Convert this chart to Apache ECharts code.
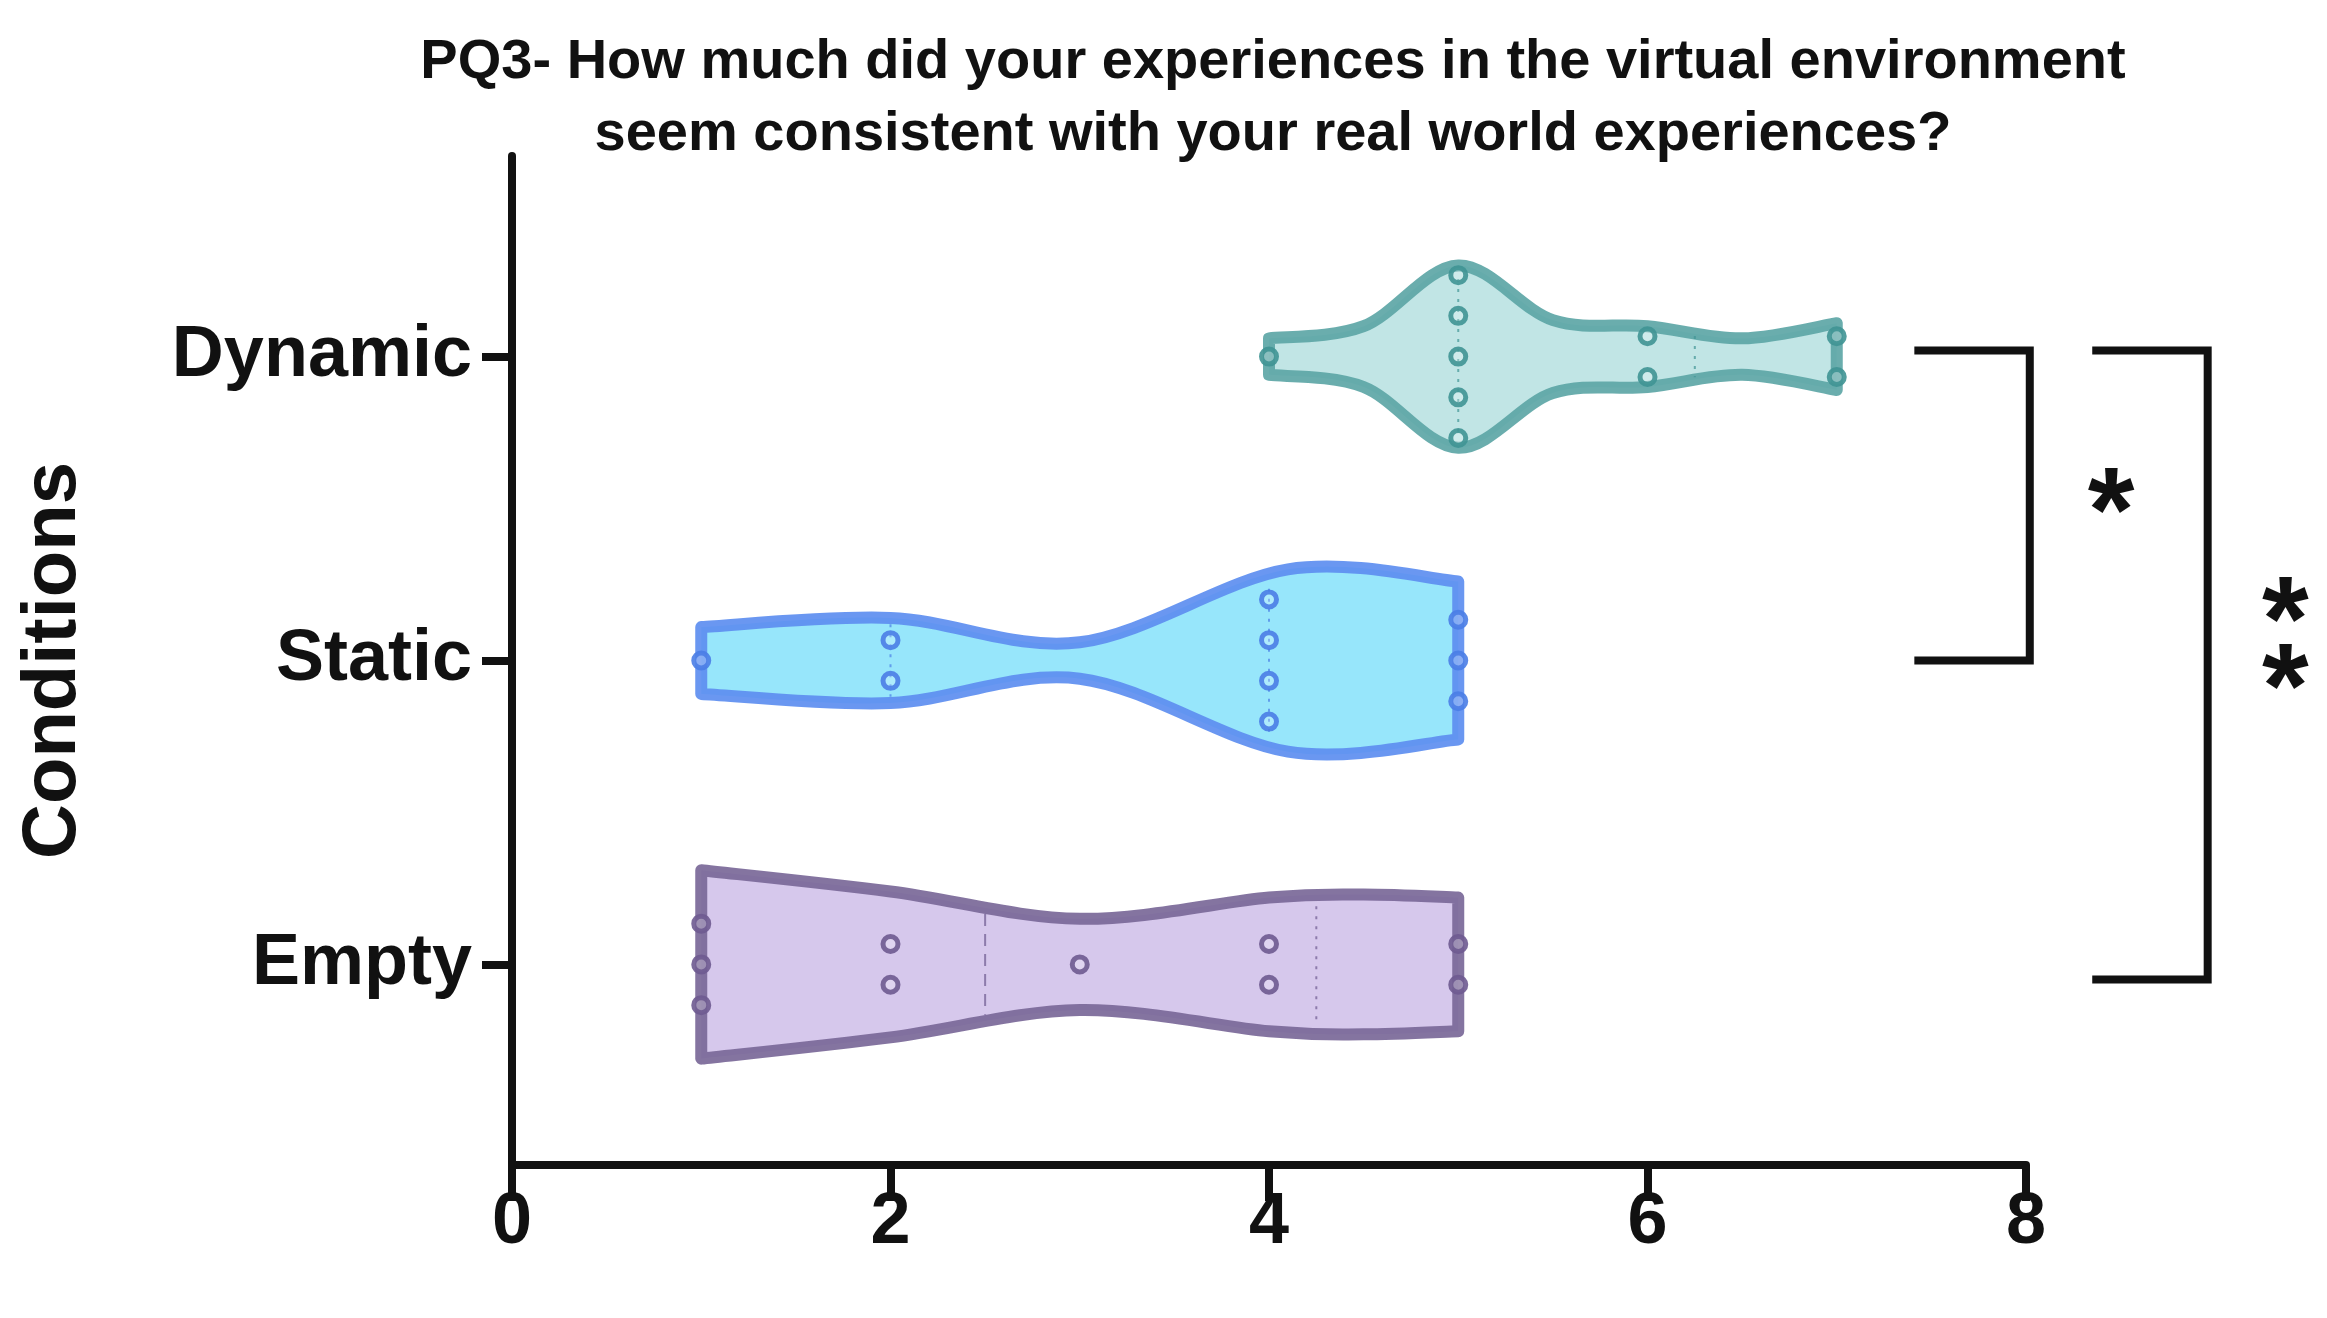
<!DOCTYPE html>
<html>
<head>
<meta charset="utf-8">
<script src="https://cdn.jsdelivr.net/npm/echarts@6/dist/echarts.min.js"></script>
<style>
html,body{margin:0;padding:0;background:#fff;}
#main{width:2327px;height:1318px;}
</style>
</head>
<body>
<div id="main"></div>
<script>
// categories, bottom to top
var categories = ["Empty", "Static", "Dynamic"];
var xTicks = [0, 2, 4, 6, 8];

// violin profiles: [score, half width]
var dynamicShape = [[4, 0.06], [4.5, 0.1], [5, 0.30], [5.5, 0.12], [6, 0.1], [6.5, 0.06], [7, 0.11]];
var staticShape = [[1, 0.11], [2, 0.14], [3, 0.06], [4.1, 0.30], [5, 0.26]];
var emptyShape = [[1, 0.31], [2, 0.24], [3, 0.15], [4, 0.22], [4.5, 0.23], [5, 0.22]];

// individual answers: [score, stack slot]
var dynamicPoints = [[4, 0], [5, -2], [5, -1], [5, 0], [5, 1], [5, 2], [6, -0.5], [6, 0.5], [7, -0.5], [7, 0.5]];
var staticPoints = [[1, 0], [2, -0.5], [2, 0.5], [4, -1.5], [4, -0.5], [4, 0.5], [4, 1.5], [5, -1], [5, 0], [5, 1]];
var emptyPoints = [[1, -1], [1, 0], [1, 1], [2, -0.5], [2, 0.5], [3, 0], [4, -0.5], [4, 0.5], [5, -0.5], [5, 0.5]];

// median / quartile lines: [score, type]
var dynamicLines = [[5, "dotted"], [6.25, "dotted"]];
var staticLines = [[2, "dotted"], [4, "dotted"]];
var emptyLines = [[2.5, "dashed"], [4.25, "dotted"]];

var groups = [
    {shape: emptyShape, points: emptyPoints, lines: emptyLines, fill: "#d2c3ea", stroke: "#7a6898", dot: "#6e5a90"},
    {shape: staticShape, points: staticPoints, lines: staticLines, fill: "#8ee4fb", stroke: "#5d8ef0", dot: "#4a7de6"},
    {shape: dynamicShape, points: dynamicPoints, lines: dynamicLines, fill: "#bce3e3", stroke: "#5da6a6", dot: "#3f9494"}
];
var dotStep = 0.134;

function halfAt(shape, x){
    for (var i = 0; i < shape.length - 1; i++) {
        if (x >= shape[i][0] && x <= shape[i + 1][0]) {
            var t = (x - shape[i][0]) / (shape[i + 1][0] - shape[i][0]);
            return shape[i][1] + t * (shape[i + 1][1] - shape[i][1]);
        }
    }
    return shape[shape.length - 1][1];
}

// smooth curve through pixel points (catmull-rom), as path commands
function curve(pts, start){
    var d = start ? "M" + pts[0][0] + "," + pts[0][1] : "L" + pts[0][0] + "," + pts[0][1];
    for (var i = 0; i < pts.length - 1; i++) {
        var p0 = pts[Math.max(i - 1, 0)], p1 = pts[i], p2 = pts[i + 1], p3 = pts[Math.min(i + 2, pts.length - 1)];
        var c1 = [p1[0] + (p2[0] - p0[0]) / 6, p1[1] + (p2[1] - p0[1]) / 6];
        var c2 = [p2[0] - (p3[0] - p1[0]) / 6, p2[1] - (p3[1] - p1[1]) / 6];
        d += "C" + c1[0] + "," + c1[1] + " " + c2[0] + "," + c2[1] + " " + p2[0] + "," + p2[1];
    }
    return d;
}

var series = [];

groups.forEach(function(g, gi){
    series.push({
        type: "custom",
        data: [[gi]],
        clip: false,
        z: 2,
        renderItem: function(params, api){
            var top = [], bot = [];
            g.shape.forEach(function(p){
                top.push(api.coord([p[0], gi + p[1]]));
                bot.unshift(api.coord([p[0], gi - p[1]]));
            });
            var children = [{
                type: "path",
                shape: {pathData: curve(top, true) + curve(bot, false) + "Z"},
                style: {fill: g.fill, stroke: g.stroke, lineWidth: 12, lineJoin: "round", opacity: 0.92}
            }];
            g.lines.forEach(function(l){
                var h = halfAt(g.shape, l[0]) * 0.85;
                var a = api.coord([l[0], gi + h]), b = api.coord([l[0], gi - h]);
                children.push({
                    type: "line",
                    shape: {x1: a[0], y1: a[1], x2: b[0], y2: b[1]},
                    style: {stroke: g.dot, lineWidth: 2, lineDash: l[1] == "dashed" ? [12, 8] : [3, 7], opacity: 0.7}
                });
            });
            return {type: "group", children: children};
        }
    });
    series.push({
        type: "scatter",
        z: 3,
        symbol: "circle",
        symbolSize: 15,
        itemStyle: {color: "rgba(255,255,255,0.25)", borderColor: g.dot, borderWidth: 5, opacity: 0.9},
        data: g.points.map(function(p){ return [p[0], gi + p[1] * dotStep]; })
    });
});

// significance brackets: [x left, x right, y top, y bottom]
var brackets = [[7.41, 8.02, 2.02, 1.0], [8.35, 8.96, 2.02, -0.05]];
var stars = [[8.45, 1.47], [9.37, 1.11], [9.37, 0.89]];

series.push({
    type: "custom",
    data: [[0]],
    clip: false,
    renderItem: function(params, api){
        var children = [];
        brackets.forEach(function(b){
            var p1 = api.coord([b[0], b[2]]), p2 = api.coord([b[1], b[2]]);
            var p3 = api.coord([b[1], b[3]]), p4 = api.coord([b[0], b[3]]);
            children.push({
                type: "polyline",
                shape: {points: [p1, p2, p3, p4]},
                style: {stroke: "#111", lineWidth: 8, fill: null}
            });
        });
        stars.forEach(function(s){
            var c = api.coord([s[0], s[1]]);
            children.push({
                type: "text",
                x: c[0], y: c[1],
                style: {text: "*", font: "bold 120px Liberation Sans", fill: "#111", align: "center", verticalAlign: "middle"}
            });
        });
        return {type: "group", children: children};
    }
});

var myChart = echarts.init(document.getElementById("main"));

var option = {
    backgroundColor: "#fff",
    animation: false,
    title: {
        text: "PQ3- How much did your experiences in the virtual environment\nseem consistent with your real world experiences?",
        left: 1268,
        top: 22,
        textAlign: "center",
        textStyle: {fontFamily: "Liberation Sans", fontWeight: "bold", fontSize: 56, lineHeight: 72, color: "#111"}
    },
    grid: {left: 512, right: 301, top: 156, bottom: 153},
    xAxis: {
        type: "value",
        min: 0, max: 8, interval: 2,
        axisLine: {show: true, onZero: false, lineStyle: {color: "#111", width: 8}},
        axisTick: {show: true, length: 36, lineStyle: {color: "#111", width: 8}},
        splitLine: {show: false},
        axisLabel: {fontFamily: "Liberation Sans", fontWeight: "bold", fontSize: 72, color: "#111", margin: 22,
            formatter: function(v){ return xTicks.indexOf(v) >= 0 ? String(v) : ""; }}
    },
    yAxis: {
        type: "value",
        min: -0.66, max: 2.66,
        name: "Conditions",
        nameLocation: "middle",
        nameGap: 420,
        nameTextStyle: {fontFamily: "Liberation Sans", fontWeight: "bold", fontSize: 76, color: "#111"},
        axisLine: {show: true, onZero: false, lineStyle: {color: "#111", width: 8}},
        axisTick: {show: true, length: 30, customValues: [0, 1, 2], lineStyle: {color: "#111", width: 8}},
        splitLine: {show: false},
        axisLabel: {customValues: [0, 1, 2], fontFamily: "Liberation Sans", fontWeight: "bold", fontSize: 72, color: "#111", margin: 40,
            formatter: function(v){ return categories[Math.round(v)]; }}
    },
    series: series
};

myChart.setOption(option);
</script>
</body>
</html>
